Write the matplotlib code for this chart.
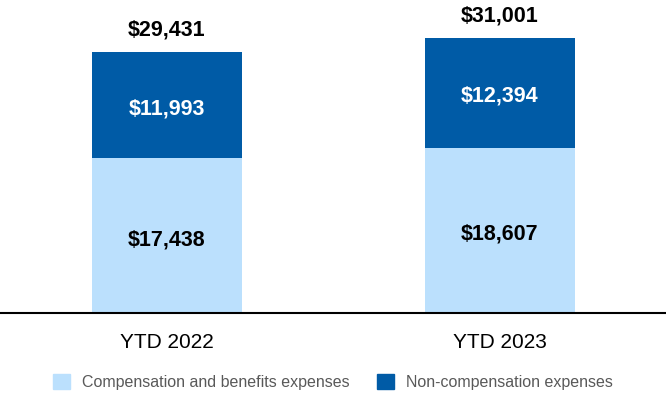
import matplotlib
matplotlib.use("agg")
import matplotlib.pyplot as plt
from matplotlib.patches import Patch

categories = ["YTD 2022", "YTD 2023"]
comp = [17438, 18607]
noncomp = [11993, 12394]
totals = [29431, 31001]
series_names = ["Compensation and benefits expenses", "Non-compensation expenses"]

light = "#BBE0FD"
dark = "#005BA6"

plt.rcParams["font.family"] = ["Liberation Sans", "DejaVu Sans"]

fig = plt.figure(figsize=(6.66, 3.94), dpi=100)
ax = fig.add_axes([0, 0.2064, 1, 0.7936])

x = [0, 1]
w = 0.45
ax.bar(x, comp, width=w, color=light)
ax.bar(x, noncomp, width=w, bottom=comp, color=dark)

for i in range(len(x)):
    ax.annotate("${:,}".format(comp[i]), (x[i], comp[i] / 2), xytext=(0, -3),
                textcoords="offset points", ha="center", va="center",
                fontsize=15.5, fontweight="bold", color="black")
    ax.annotate("${:,}".format(noncomp[i]), (x[i], comp[i] + noncomp[i] / 2), xytext=(0, -2.5),
                textcoords="offset points", ha="center", va="center",
                fontsize=15.5, fontweight="bold", color="white")
    ax.annotate("${:,}".format(totals[i]), (x[i], totals[i]), xytext=(0, 16),
                textcoords="offset points", ha="center", va="center",
                fontsize=15.5, fontweight="bold", color="black")
    ax.annotate(categories[i], (x[i], 0), xytext=(0, -21.5), textcoords="offset points",
                ha="center", va="center", fontsize=15, color="black", annotation_clip=False)

ax.set_xlim(-0.5015, 1.4985)
ax.set_ylim(0, 35291)
for s in ["top", "right", "left"]:
    ax.spines[s].set_visible(False)
ax.spines["bottom"].set_linewidth(1.5)
ax.set_xticks([])
ax.set_yticks([])

handles = [Patch(color=light), Patch(color=dark)]
fig.legend(handles, series_names, loc="center", bbox_to_anchor=(0.5, 0.031), ncol=2,
           frameon=False, fontsize=11.5, labelcolor="#595959", handlelength=1.05,
           handleheight=1.05, columnspacing=1.75, handletextpad=0.75)

fig.savefig("out.png", dpi=100)
